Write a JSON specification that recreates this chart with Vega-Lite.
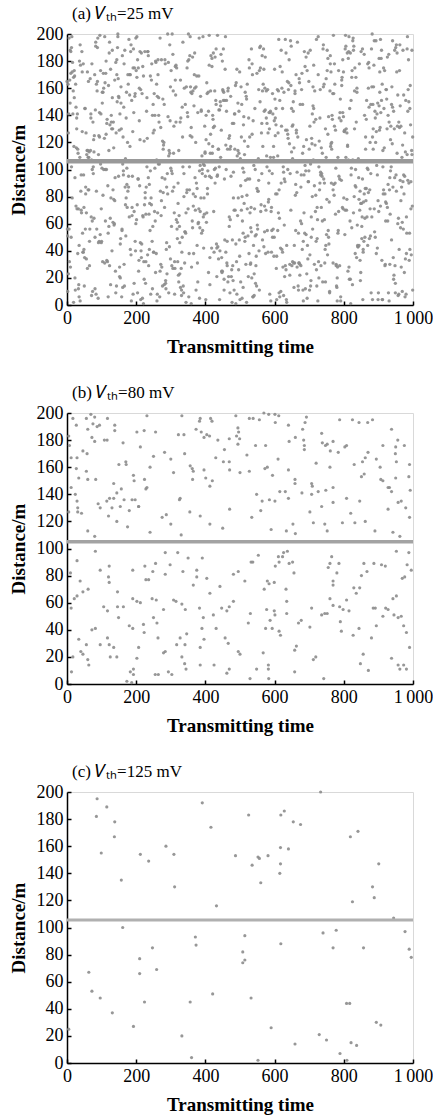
{
"$schema": "https://vega.github.io/schema/vega-lite/v6.json",
"padding": {"left": 8, "top": 4, "right": 0, "bottom": 2},
"spacing": 26,
"config": {
  "view": {"stroke": "#d9d9d9", "strokeWidth": 1},
  "axis": {"grid": false, "domainColor": "#000", "domainWidth": 1.5, "tickColor": "#000", "tickWidth": 1.5, "tickSize": -4, "labelFont": "Liberation Serif", "labelFontSize": 18, "labelColor": "#000", "titleFont": "Liberation Serif", "titleFontSize": 19, "titleFontWeight": "bold", "titleColor": "#000", "labelFlush": false, "labelOverlap": false, "labelSeparation": -100, "labelPadding": 8},
  "axisX": {"titlePadding": 10},
  "axisY": {"titlePadding": 8},
  "title": {"font": "Liberation Serif", "fontSize": 17, "fontWeight": "normal", "anchor": "start", "frame": "group", "color": "#000", "offset": 2}
},
"datasets": {
"la": [{"y": 106}], "lb": [{"y": 105}], "lc": [{"y": 105.5}],
"c": [{"x":87,"y":195},{"x":115,"y":189},{"x":85,"y":182},{"x":138,"y":178},{"x":137,"y":167},{"x":99,"y":155},{"x":157,"y":135},{"x":212,"y":154},{"x":236,"y":149},{"x":286,"y":160},{"x":309,"y":154},{"x":311,"y":130},{"x":391,"y":192},{"x":416,"y":174},{"x":487,"y":153},{"x":525,"y":183},{"x":535,"y":146},{"x":552,"y":152},{"x":556,"y":151},{"x":581,"y":153},{"x":560,"y":133},{"x":618,"y":183},{"x":628,"y":186},{"x":654,"y":178},{"x":675,"y":176},{"x":617,"y":159},{"x":640,"y":158},{"x":617,"y":147},{"x":615,"y":140},{"x":733,"y":200},{"x":819,"y":167},{"x":841,"y":171},{"x":901,"y":147},{"x":883,"y":130},{"x":5,"y":25},{"x":63,"y":67},{"x":72,"y":53},{"x":96,"y":48},{"x":131,"y":37},{"x":161,"y":100},{"x":192,"y":27},{"x":210,"y":66},{"x":210,"y":77},{"x":224,"y":45},{"x":247,"y":85},{"x":259,"y":69},{"x":332,"y":20},{"x":356,"y":45},{"x":360,"y":4},{"x":371,"y":93},{"x":373,"y":87},{"x":421,"y":51},{"x":432,"y":116},{"x":508,"y":82},{"x":508,"y":74},{"x":514,"y":76},{"x":514,"y":94},{"x":532,"y":48},{"x":552,"y":2},{"x":590,"y":26},{"x":618,"y":88},{"x":659,"y":14},{"x":729,"y":21},{"x":750,"y":17},{"x":740,"y":96},{"x":778,"y":98},{"x":769,"y":85},{"x":825,"y":119},{"x":857,"y":85},{"x":888,"y":122},{"x":894,"y":30},{"x":907,"y":28},{"x":944,"y":107},{"x":977,"y":97},{"x":989,"y":84},{"x":995,"y":78},{"x":789,"y":7},{"x":809,"y":2},{"x":821,"y":15},{"x":837,"y":13},{"x":808,"y":44},{"x":817,"y":44}],
"b": [{"x":17,"y":196},{"x":27,"y":191},{"x":56,"y":196},{"x":69,"y":199},{"x":80,"y":197},{"x":75,"y":192},{"x":87,"y":190},{"x":94,"y":191},{"x":117,"y":196},{"x":231,"y":198},{"x":332,"y":198},{"x":383,"y":194},{"x":385,"y":196},{"x":415,"y":196},{"x":419,"y":194},{"x":488,"y":198},{"x":527,"y":196},{"x":538,"y":196},{"x":556,"y":195},{"x":569,"y":200},{"x":583,"y":199},{"x":601,"y":199},{"x":612,"y":198},{"x":602,"y":193},{"x":640,"y":191},{"x":692,"y":197},{"x":688,"y":193},{"x":681,"y":188},{"x":788,"y":195},{"x":825,"y":195},{"x":844,"y":193},{"x":869,"y":193},{"x":883,"y":195},{"x":938,"y":188},{"x":60,"y":188},{"x":72,"y":182},{"x":80,"y":179},{"x":108,"y":180},{"x":116,"y":180},{"x":138,"y":191},{"x":138,"y":187},{"x":202,"y":186},{"x":223,"y":187},{"x":256,"y":186},{"x":322,"y":184},{"x":338,"y":184},{"x":373,"y":188},{"x":388,"y":186},{"x":396,"y":182},{"x":404,"y":184},{"x":412,"y":183},{"x":436,"y":180},{"x":469,"y":181},{"x":494,"y":189},{"x":496,"y":186},{"x":490,"y":183},{"x":499,"y":181},{"x":494,"y":177},{"x":574,"y":176},{"x":642,"y":179},{"x":660,"y":182},{"x":684,"y":180},{"x":686,"y":176},{"x":686,"y":173},{"x":736,"y":185},{"x":738,"y":178},{"x":747,"y":176},{"x":752,"y":177},{"x":769,"y":179},{"x":761,"y":172},{"x":784,"y":171},{"x":808,"y":176},{"x":803,"y":175},{"x":913,"y":176},{"x":956,"y":180},{"x":975,"y":176},{"x":950,"y":175},{"x":949,"y":170},{"x":5,"y":183},{"x":7,"y":176},{"x":12,"y":167},{"x":29,"y":167},{"x":46,"y":172},{"x":58,"y":170},{"x":162,"y":178},
{"x":27,"y":159},{"x":34,"y":152},{"x":56,"y":157},{"x":60,"y":151},{"x":83,"y":151},{"x":24,"y":140},{"x":29,"y":135},{"x":12,"y":145},{"x":31,"y":130},{"x":90,"y":133},{"x":96,"y":130},{"x":115,"y":135},{"x":123,"y":137},{"x":135,"y":137},{"x":130,"y":130},{"x":154,"y":131},{"x":165,"y":136},{"x":188,"y":136},{"x":197,"y":136},{"x":207,"y":131},{"x":135,"y":148},{"x":144,"y":141},{"x":157,"y":144},{"x":150,"y":162},{"x":170,"y":164},{"x":171,"y":162},{"x":192,"y":154},{"x":194,"y":150},{"x":224,"y":151},{"x":228,"y":144},{"x":231,"y":145},{"x":308,"y":156},{"x":327,"y":137},{"x":325,"y":136},{"x":356,"y":161},{"x":362,"y":159},{"x":365,"y":157},{"x":363,"y":151},{"x":401,"y":152},{"x":420,"y":150},{"x":413,"y":146},{"x":396,"y":158},{"x":452,"y":164},{"x":469,"y":164},{"x":500,"y":156},{"x":527,"y":157},{"x":548,"y":140},{"x":564,"y":135},{"x":572,"y":159},{"x":579,"y":160},{"x":594,"y":154},{"x":585,"y":136},{"x":615,"y":142},{"x":631,"y":142},{"x":640,"y":137},{"x":601,"y":135},{"x":659,"y":151},{"x":659,"y":148},{"x":679,"y":141},{"x":707,"y":148},{"x":709,"y":146},{"x":707,"y":140},{"x":726,"y":142},{"x":748,"y":143},{"x":769,"y":134},{"x":769,"y":145},{"x":808,"y":137},{"x":846,"y":135},{"x":854,"y":164},{"x":862,"y":167},{"x":851,"y":153},{"x":859,"y":155},{"x":894,"y":166},{"x":907,"y":151},{"x":913,"y":150},{"x":932,"y":145},{"x":928,"y":145},{"x":938,"y":142},{"x":950,"y":152},{"x":952,"y":164},{"x":988,"y":153},{"x":992,"y":143},{"x":957,"y":134},{"x":966,"y":135},{"x":979,"y":130},{"x":250,"y":168},{"x":282,"y":171},{"x":300,"y":166},{"x":340,"y":170},{"x":430,"y":167},{"x":520,"y":169},{"x":610,"y":166},{"x":720,"y":163},{"x":830,"y":162},{"x":870,"y":171},{"x":990,"y":162},{"x":240,"y":160},{"x":470,"y":158},{"x":640,"y":158},{"x":760,"y":160},{"x":905,"y":160},{"x":212,"y":175},{"x":455,"y":173},{"x":545,"y":176},
{"x":5,"y":127},{"x":31,"y":127},{"x":42,"y":126},{"x":120,"y":124},{"x":144,"y":120},{"x":207,"y":131},{"x":275,"y":123},{"x":287,"y":125},{"x":300,"y":118},{"x":385,"y":124},{"x":413,"y":118},{"x":534,"y":123},{"x":653,"y":118},{"x":660,"y":111},{"x":634,"y":113},{"x":702,"y":127},{"x":712,"y":119},{"x":736,"y":131},{"x":745,"y":118},{"x":752,"y":113},{"x":796,"y":119},{"x":832,"y":119},{"x":862,"y":120},{"x":928,"y":129},{"x":942,"y":112},{"x":962,"y":109},{"x":990,"y":123},{"x":80,"y":109},{"x":60,"y":113},{"x":175,"y":116},{"x":240,"y":112},{"x":330,"y":110},{"x":450,"y":115},{"x":560,"y":128},{"x":590,"y":114},{"x":890,"y":113},{"x":820,"y":126},{"x":470,"y":129},{"x":355,"y":127},{"x":180,"y":128},
{"x":29,"y":91},{"x":10,"y":82},{"x":82,"y":98},{"x":96,"y":84},{"x":122,"y":87},{"x":38,"y":76},{"x":46,"y":68},{"x":61,"y":70},{"x":29,"y":65},{"x":21,"y":63},{"x":12,"y":56},{"x":120,"y":79},{"x":122,"y":75},{"x":106,"y":57},{"x":117,"y":54},{"x":72,"y":40},{"x":82,"y":41},{"x":56,"y":29},{"x":96,"y":29},{"x":117,"y":34},{"x":122,"y":29},{"x":135,"y":27},{"x":144,"y":20},{"x":125,"y":20},{"x":34,"y":33},{"x":17,"y":20},{"x":40,"y":24},{"x":46,"y":22},{"x":60,"y":18},{"x":63,"y":14},{"x":13,"y":9},{"x":146,"y":68},{"x":146,"y":57},{"x":149,"y":49},{"x":163,"y":57},{"x":180,"y":43},{"x":190,"y":41},{"x":190,"y":63},{"x":202,"y":61},{"x":212,"y":60},{"x":190,"y":84},{"x":228,"y":77},{"x":236,"y":77},{"x":248,"y":83},{"x":256,"y":89},{"x":225,"y":87},{"x":246,"y":63},{"x":258,"y":62},{"x":250,"y":49},{"x":260,"y":45},{"x":263,"y":34},{"x":221,"y":44},{"x":223,"y":38},{"x":207,"y":27},{"x":202,"y":19},{"x":192,"y":11},{"x":183,"y":9},{"x":192,"y":7},{"x":173,"y":2},{"x":187,"y":1},{"x":284,"y":97},{"x":284,"y":81},{"x":298,"y":88},{"x":320,"y":97},{"x":335,"y":83},{"x":350,"y":93},{"x":279,"y":55},{"x":308,"y":62},{"x":315,"y":61},{"x":332,"y":59},{"x":342,"y":55},{"x":346,"y":37},{"x":327,"y":34},{"x":341,"y":29},{"x":317,"y":29},{"x":332,"y":20},{"x":340,"y":15},{"x":344,"y":11},{"x":284,"y":24},{"x":279,"y":23},{"x":303,"y":7},{"x":255,"y":7},{"x":264,"y":7},{"x":293,"y":9},{"x":375,"y":84},{"x":375,"y":79},{"x":391,"y":93},{"x":404,"y":78},{"x":365,"y":73},{"x":383,"y":56},{"x":394,"y":49},{"x":390,"y":41},{"x":396,"y":33},{"x":385,"y":27},{"x":385,"y":14},{"x":413,"y":67},{"x":423,"y":51},{"x":431,"y":41},{"x":425,"y":14},{"x":442,"y":72},{"x":447,"y":56},{"x":462,"y":54},{"x":469,"y":57},{"x":481,"y":61},{"x":457,"y":34},{"x":466,"y":30},{"x":462,"y":8},{"x":469,"y":11},{"x":481,"y":81},{"x":495,"y":83},{"x":514,"y":76},{"x":532,"y":90},{"x":537,"y":90},{"x":553,"y":95},{"x":495,"y":24},{"x":500,"y":22},{"x":524,"y":45},{"x":530,"y":52},{"x":529,"y":4},{"x":548,"y":11},{"x":567,"y":23},{"x":570,"y":70},{"x":577,"y":55},{"x":587,"y":47},{"x":593,"y":41},{"x":574,"y":41},{"x":579,"y":76},{"x":584,"y":74},{"x":599,"y":75},{"x":602,"y":87},{"x":611,"y":94},{"x":613,"y":90},{"x":582,"y":14},{"x":582,"y":11},{"x":583,"y":4},{"x":613,"y":39},{"x":617,"y":36},{"x":599,"y":54},{"x":601,"y":51},{"x":623,"y":94},{"x":626,"y":97},{"x":637,"y":98},{"x":642,"y":89},{"x":652,"y":90},{"x":656,"y":82},{"x":633,"y":70},{"x":635,"y":61},{"x":635,"y":52},{"x":658,"y":25},{"x":663,"y":28},{"x":658,"y":9},{"x":669,"y":45},{"x":677,"y":47},{"x":707,"y":56},{"x":702,"y":42},{"x":712,"y":18},{"x":719,"y":20},{"x":736,"y":51},{"x":745,"y":52},{"x":752,"y":52},{"x":742,"y":4},{"x":755,"y":86},{"x":760,"y":89},{"x":765,"y":94},{"x":769,"y":76},{"x":769,"y":73},{"x":780,"y":82},{"x":786,"y":89},{"x":760,"y":63},{"x":769,"y":58},{"x":788,"y":57},{"x":798,"y":55},{"x":808,"y":62},{"x":815,"y":54},{"x":790,"y":46},{"x":793,"y":39},{"x":827,"y":36},{"x":844,"y":41},{"x":829,"y":71},{"x":846,"y":71},{"x":836,"y":67},{"x":851,"y":80},{"x":858,"y":89},{"x":867,"y":83},{"x":887,"y":89},{"x":856,"y":22},{"x":848,"y":15},{"x":885,"y":56},{"x":891,"y":56},{"x":894,"y":43},{"x":880,"y":34},{"x":871,"y":10},{"x":909,"y":88},{"x":920,"y":87},{"x":921,"y":56},{"x":928,"y":55},{"x":913,"y":50},{"x":942,"y":63},{"x":952,"y":65},{"x":945,"y":51},{"x":957,"y":49},{"x":966,"y":50},{"x":973,"y":43},{"x":981,"y":38},{"x":990,"y":27},{"x":938,"y":19},{"x":957,"y":14},{"x":962,"y":11},{"x":973,"y":14},{"x":981,"y":11},{"x":976,"y":79},{"x":983,"y":88},{"x":995,"y":84},{"x":969,"y":78},{"x":952,"y":98},{"x":988,"y":97}],
"a": [
{"x":717,"y":118},{"x":753,"y":37},{"x":641,"y":164},{"x":278,"y":83},{"x":759,"y":9},{"x":485,"y":141},{"x":972,"y":56},{"x":646,"y":195},{"x":913,"y":102},{"x":330,"y":27},{"x":301,"y":173},{"x":188,"y":66},{"x":925,"y":130},{"x":606,"y":4},{"x":994,"y":91},{"x":519,"y":152},{"x":432,"y":45},{"x":211,"y":187},{"x":998,"y":73},{"x":577,"y":110},{"x":454,"y":19},{"x":986,"y":159},{"x":665,"y":98},{"x":792,"y":136},{"x":523,"y":51},{"x":908,"y":182},{"x":33,"y":12},{"x":899,"y":77},{"x":470,"y":125},{"x":202,"y":168},{"x":989,"y":33},{"x":164,"y":146},{"x":379,"y":60},{"x":95,"y":199},{"x":210,"y":88},{"x":326,"y":23},{"x":437,"y":115},{"x":105,"y":171},{"x":418,"y":42},{"x":993,"y":133},{"x":331,"y":7},{"x":412,"y":95},{"x":197,"y":156},{"x":424,"y":69},{"x":257,"y":179},{"x":734,"y":29},{"x":71,"y":107},{"x":890,"y":143},{"x":316,"y":63},{"x":950,"y":190},{"x":126,"y":15},{"x":709,"y":80},{"x":44,"y":128},{"x":313,"y":176},{"x":581,"y":39},{"x":638,"y":100},{"x":102,"y":149},{"x":519,"y":2},{"x":347,"y":85},{"x":373,"y":161},{"x":456,"y":48},{"x":935,"y":122},{"x":215,"y":186},{"x":41,"y":70},{"x":778,"y":30},{"x":511,"y":139},{"x":933,"y":94},{"x":104,"y":157},{"x":571,"y":54},{"x":649,"y":113},
{"x":767,"y":137},{"x":803,"y":52},{"x":691,"y":183},{"x":328,"y":13},{"x":809,"y":78},{"x":535,"y":126},{"x":22,"y":169},{"x":696,"y":34},{"x":963,"y":147},{"x":380,"y":61},{"x":351,"y":200},{"x":238,"y":89},{"x":975,"y":24},{"x":656,"y":116},{"x":44,"y":172},{"x":569,"y":43},{"x":482,"y":134},{"x":261,"y":8},{"x":48,"y":96},{"x":627,"y":157},{"x":504,"y":70},{"x":36,"y":180},{"x":715,"y":30},{"x":842,"y":108},{"x":573,"y":144},{"x":958,"y":64},{"x":83,"y":191},{"x":949,"y":16},{"x":520,"y":81},{"x":252,"y":129},{"x":39,"y":177},{"x":214,"y":40},{"x":429,"y":101},{"x":145,"y":150},{"x":260,"y":3},{"x":376,"y":86},{"x":487,"y":162},{"x":155,"y":49},{"x":468,"y":123},{"x":43,"y":187},{"x":381,"y":71},{"x":462,"y":31},{"x":247,"y":140},{"x":474,"y":95},{"x":307,"y":158},{"x":784,"y":55},{"x":121,"y":114},{"x":940,"y":119},{"x":366,"y":38},{"x":0,"y":165},{"x":176,"y":84},{"x":759,"y":10},{"x":94,"y":142},{"x":363,"y":57},{"x":631,"y":196},{"x":688,"y":103},{"x":152,"y":28},{"x":569,"y":174},{"x":397,"y":67},{"x":423,"y":131},{"x":506,"y":5},{"x":985,"y":92},{"x":265,"y":153},{"x":91,"y":46},{"x":828,"y":188},{"x":561,"y":74},{"x":983,"y":111},{"x":154,"y":20},{"x":621,"y":160},{"x":699,"y":99},
{"x":817,"y":145},{"x":853,"y":65},{"x":741,"y":192},{"x":378,"y":17},{"x":859,"y":82},{"x":585,"y":130},{"x":72,"y":178},{"x":746,"y":41},{"x":13,"y":102},{"x":430,"y":151},{"x":401,"y":4},{"x":288,"y":87},{"x":25,"y":163},{"x":706,"y":50},{"x":94,"y":124},{"x":619,"y":188},{"x":532,"y":72},{"x":311,"y":32},{"x":98,"y":141},{"x":677,"y":96},{"x":554,"y":159},{"x":86,"y":56},{"x":765,"y":115},{"x":892,"y":120},{"x":623,"y":39},{"x":8,"y":166},{"x":133,"y":85},{"x":999,"y":11},{"x":570,"y":143},{"x":302,"y":58},{"x":89,"y":197},{"x":264,"y":104},{"x":479,"y":29},{"x":195,"y":175},{"x":310,"y":68},{"x":426,"y":132},{"x":537,"y":6},{"x":205,"y":93},{"x":518,"y":154},{"x":93,"y":47},{"x":431,"y":189},{"x":512,"y":75},{"x":297,"y":112},{"x":524,"y":21},{"x":357,"y":161},{"x":834,"y":100},{"x":171,"y":138},{"x":990,"y":53},{"x":416,"y":184},{"x":50,"y":14},{"x":226,"y":79},{"x":809,"y":127},{"x":144,"y":170},{"x":413,"y":35},{"x":681,"y":148},{"x":738,"y":62},{"x":202,"y":198},{"x":619,"y":90},{"x":447,"y":25},{"x":473,"y":117},{"x":556,"y":173},{"x":35,"y":44},{"x":315,"y":135},{"x":141,"y":9},{"x":878,"y":97},{"x":611,"y":158},{"x":33,"y":71},{"x":204,"y":181},{"x":671,"y":31},{"x":749,"y":109},
{"x":867,"y":65},{"x":903,"y":129},{"x":791,"y":3},{"x":428,"y":90},{"x":909,"y":151},{"x":635,"y":44},{"x":122,"y":186},{"x":796,"y":72},{"x":63,"y":109},{"x":480,"y":18},{"x":451,"y":158},{"x":338,"y":97},{"x":75,"y":135},{"x":756,"y":50},{"x":144,"y":181},{"x":669,"y":11},{"x":582,"y":76},{"x":361,"y":124},{"x":148,"y":167},{"x":727,"y":32},{"x":604,"y":145},{"x":136,"y":59},{"x":815,"y":198},{"x":942,"y":87},{"x":673,"y":22},{"x":58,"y":114},{"x":183,"y":170},{"x":49,"y":41},{"x":620,"y":132},{"x":352,"y":6},{"x":139,"y":94},{"x":314,"y":155},{"x":529,"y":68},{"x":245,"y":178},{"x":360,"y":28},{"x":476,"y":106},{"x":587,"y":142},{"x":255,"y":62},{"x":568,"y":189},{"x":143,"y":14},{"x":481,"y":79},{"x":562,"y":127},{"x":347,"y":175},{"x":574,"y":38},{"x":407,"y":99},{"x":884,"y":148},{"x":221,"y":1},{"x":40,"y":84},{"x":466,"y":160},{"x":100,"y":47},{"x":276,"y":121},{"x":859,"y":185},{"x":194,"y":69},{"x":463,"y":29},{"x":731,"y":138},{"x":788,"y":93},{"x":252,"y":156},{"x":669,"y":53},{"x":497,"y":112},{"x":523,"y":117},{"x":606,"y":36},{"x":85,"y":163},{"x":365,"y":82},{"x":191,"y":8},{"x":928,"y":140},{"x":661,"y":55},{"x":83,"y":194},{"x":254,"y":101},{"x":721,"y":26},{"x":799,"y":172},
{"x":917,"y":116},{"x":953,"y":172},{"x":841,"y":43},{"x":478,"y":134},{"x":959,"y":8},{"x":685,"y":96},{"x":172,"y":157},{"x":846,"y":70},{"x":113,"y":180},{"x":530,"y":30},{"x":501,"y":108},{"x":388,"y":144},{"x":125,"y":64},{"x":806,"y":191},{"x":194,"y":16},{"x":719,"y":81},{"x":632,"y":129},{"x":411,"y":177},{"x":198,"y":40},{"x":777,"y":101},{"x":654,"y":150},{"x":186,"y":3},{"x":865,"y":86},{"x":992,"y":162},{"x":723,"y":49},{"x":108,"y":123},{"x":233,"y":187},{"x":99,"y":71},{"x":670,"y":31},{"x":402,"y":140},{"x":189,"y":95},{"x":364,"y":158},{"x":579,"y":55},{"x":295,"y":114},{"x":410,"y":119},{"x":526,"y":38},{"x":637,"y":165},{"x":305,"y":84},{"x":618,"y":10},{"x":193,"y":142},{"x":531,"y":57},{"x":612,"y":196},{"x":397,"y":103},{"x":624,"y":28},{"x":457,"y":174},{"x":934,"y":67},{"x":271,"y":131},{"x":90,"y":5},{"x":516,"y":92},{"x":150,"y":153},{"x":326,"y":46},{"x":909,"y":188},{"x":244,"y":74},{"x":513,"y":111},{"x":781,"y":20},{"x":838,"y":160},{"x":302,"y":99},{"x":719,"y":137},{"x":547,"y":52},{"x":573,"y":183},{"x":656,"y":13},{"x":135,"y":78},{"x":415,"y":126},{"x":241,"y":169},{"x":978,"y":34},{"x":711,"y":147},{"x":133,"y":61},{"x":304,"y":200},{"x":771,"y":89},{"x":849,"y":24},
{"x":967,"y":87},{"x":3,"y":163},{"x":891,"y":50},{"x":528,"y":124},{"x":9,"y":188},{"x":735,"y":72},{"x":222,"y":32},{"x":896,"y":141},{"x":163,"y":96},{"x":580,"y":159},{"x":551,"y":56},{"x":438,"y":115},{"x":175,"y":120},{"x":856,"y":39},{"x":244,"y":166},{"x":769,"y":85},{"x":682,"y":11},{"x":461,"y":143},{"x":248,"y":58},{"x":827,"y":197},{"x":704,"y":104},{"x":236,"y":29},{"x":915,"y":175},{"x":42,"y":68},{"x":773,"y":132},{"x":158,"y":6},{"x":283,"y":93},{"x":149,"y":154},{"x":720,"y":47},{"x":452,"y":189},{"x":239,"y":75},{"x":414,"y":112},{"x":629,"y":21},{"x":345,"y":161},{"x":460,"y":100},{"x":576,"y":138},{"x":687,"y":53},{"x":355,"y":184},{"x":668,"y":14},{"x":243,"y":79},{"x":581,"y":127},{"x":662,"y":170},{"x":447,"y":35},{"x":674,"y":148},{"x":507,"y":62},{"x":984,"y":198},{"x":321,"y":90},{"x":140,"y":25},{"x":566,"y":117},{"x":200,"y":173},{"x":376,"y":44},{"x":959,"y":135},{"x":294,"y":9},{"x":563,"y":97},{"x":831,"y":158},{"x":888,"y":71},{"x":352,"y":181},{"x":769,"y":31},{"x":597,"y":109},{"x":623,"y":145},{"x":706,"y":65},{"x":185,"y":192},{"x":465,"y":17},{"x":291,"y":82},{"x":28,"y":130},{"x":761,"y":178},{"x":183,"y":41},{"x":354,"y":102},{"x":821,"y":151},{"x":899,"y":4},
{"x":17,"y":141},{"x":53,"y":56},{"x":941,"y":195},{"x":578,"y":102},{"x":59,"y":27},{"x":785,"y":173},{"x":272,"y":66},{"x":946,"y":130},{"x":213,"y":4},{"x":630,"y":91},{"x":601,"y":152},{"x":488,"y":45},{"x":225,"y":187},{"x":906,"y":73},{"x":294,"y":110},{"x":819,"y":19},{"x":732,"y":159},{"x":511,"y":98},{"x":298,"y":136},{"x":877,"y":51},{"x":754,"y":182},{"x":286,"y":12},{"x":965,"y":77},{"x":92,"y":125},{"x":823,"y":168},{"x":208,"y":33},{"x":333,"y":146},{"x":199,"y":60},{"x":770,"y":199},{"x":502,"y":88},{"x":289,"y":23},{"x":464,"y":115},{"x":679,"y":171},{"x":395,"y":42},{"x":510,"y":133},{"x":626,"y":7},{"x":737,"y":95},{"x":405,"y":156},{"x":718,"y":69},{"x":293,"y":179},{"x":631,"y":29},{"x":712,"y":107},{"x":497,"y":143},{"x":724,"y":63},{"x":557,"y":190},{"x":34,"y":15},{"x":371,"y":80},{"x":190,"y":128},{"x":616,"y":176},{"x":250,"y":39},{"x":426,"y":100},{"x":9,"y":149},{"x":344,"y":2},{"x":613,"y":85},{"x":881,"y":161},{"x":938,"y":48},{"x":402,"y":122},{"x":819,"y":186},{"x":647,"y":70},{"x":673,"y":30},{"x":756,"y":139},{"x":235,"y":94},{"x":515,"y":157},{"x":341,"y":54},{"x":78,"y":113},{"x":811,"y":118},{"x":233,"y":37},{"x":404,"y":164},{"x":871,"y":83},{"x":949,"y":9},
{"x":67,"y":167},{"x":103,"y":32},{"x":991,"y":145},{"x":628,"y":59},{"x":109,"y":198},{"x":835,"y":87},{"x":322,"y":22},{"x":996,"y":114},{"x":263,"y":170},{"x":680,"y":41},{"x":651,"y":132},{"x":538,"y":6},{"x":275,"y":94},{"x":956,"y":155},{"x":344,"y":68},{"x":869,"y":178},{"x":782,"y":28},{"x":561,"y":106},{"x":348,"y":142},{"x":927,"y":62},{"x":804,"y":189},{"x":336,"y":14},{"x":15,"y":79},{"x":142,"y":127},{"x":873,"y":175},{"x":258,"y":38},{"x":383,"y":99},{"x":249,"y":148},{"x":820,"y":1},{"x":552,"y":84},{"x":339,"y":160},{"x":514,"y":47},{"x":729,"y":121},{"x":445,"y":185},{"x":560,"y":69},{"x":676,"y":29},{"x":787,"y":138},{"x":455,"y":93},{"x":768,"y":156},{"x":343,"y":53},{"x":681,"y":112},{"x":762,"y":117},{"x":547,"y":36},{"x":774,"y":163},{"x":607,"y":82},{"x":84,"y":8},{"x":421,"y":140},{"x":240,"y":55},{"x":666,"y":194},{"x":300,"y":101},{"x":476,"y":26},{"x":59,"y":172},{"x":394,"y":65},{"x":663,"y":129},{"x":931,"y":3},{"x":988,"y":90},{"x":452,"y":151},{"x":869,"y":44},{"x":697,"y":186},{"x":723,"y":72},{"x":806,"y":109},{"x":285,"y":18},{"x":565,"y":158},{"x":391,"y":97},{"x":128,"y":135},{"x":861,"y":50},{"x":283,"y":181},{"x":454,"y":11},{"x":921,"y":76},{"x":999,"y":124},
{"x":117,"y":32},{"x":153,"y":141},{"x":41,"y":96},{"x":678,"y":159},{"x":159,"y":56},{"x":885,"y":115},{"x":372,"y":120},{"x":46,"y":39},{"x":313,"y":166},{"x":730,"y":85},{"x":701,"y":11},{"x":588,"y":143},{"x":325,"y":58},{"x":6,"y":197},{"x":394,"y":104},{"x":919,"y":29},{"x":832,"y":175},{"x":611,"y":68},{"x":398,"y":132},{"x":977,"y":6},{"x":854,"y":93},{"x":386,"y":154},{"x":65,"y":47},{"x":192,"y":189},{"x":923,"y":75},{"x":308,"y":112},{"x":433,"y":21},{"x":299,"y":161},{"x":870,"y":100},{"x":602,"y":138},{"x":389,"y":53},{"x":564,"y":184},{"x":779,"y":14},{"x":495,"y":79},{"x":610,"y":127},{"x":726,"y":170},{"x":837,"y":35},{"x":505,"y":148},{"x":818,"y":62},{"x":393,"y":198},{"x":731,"y":90},{"x":812,"y":25},{"x":597,"y":117},{"x":824,"y":173},{"x":657,"y":44},{"x":134,"y":135},{"x":471,"y":9},{"x":290,"y":97},{"x":716,"y":158},{"x":350,"y":71},{"x":526,"y":181},{"x":109,"y":31},{"x":444,"y":109},{"x":713,"y":145},{"x":981,"y":65},{"x":38,"y":192},{"x":502,"y":17},{"x":919,"y":82},{"x":747,"y":130},{"x":773,"y":178},{"x":856,"y":41},{"x":335,"y":102},{"x":615,"y":151},{"x":441,"y":4},{"x":178,"y":87},{"x":911,"y":163},{"x":333,"y":50},{"x":504,"y":124},{"x":971,"y":188},{"x":49,"y":72},
{"x":167,"y":188},{"x":203,"y":74},{"x":91,"y":111},{"x":728,"y":20},{"x":209,"y":160},{"x":935,"y":99},{"x":422,"y":137},{"x":96,"y":52},{"x":363,"y":183},{"x":780,"y":13},{"x":751,"y":78},{"x":638,"y":126},{"x":375,"y":169},{"x":56,"y":34},{"x":444,"y":147},{"x":969,"y":61},{"x":882,"y":200},{"x":661,"y":89},{"x":448,"y":24},{"x":27,"y":116},{"x":904,"y":172},{"x":436,"y":43},{"x":115,"y":134},{"x":242,"y":8},{"x":973,"y":96},{"x":358,"y":157},{"x":483,"y":70},{"x":349,"y":180},{"x":920,"y":30},{"x":652,"y":108},{"x":439,"y":144},{"x":614,"y":64},{"x":829,"y":191},{"x":545,"y":16},{"x":660,"y":81},{"x":776,"y":129},{"x":887,"y":177},{"x":555,"y":40},{"x":868,"y":101},{"x":443,"y":150},{"x":781,"y":3},{"x":862,"y":86},{"x":647,"y":162},{"x":874,"y":49},{"x":707,"y":123},{"x":184,"y":187},{"x":521,"y":71},{"x":340,"y":31},{"x":766,"y":140},{"x":400,"y":95},{"x":576,"y":158},{"x":159,"y":55},{"x":494,"y":114},{"x":763,"y":119},{"x":31,"y":38},{"x":88,"y":165},{"x":552,"y":84},{"x":969,"y":10},{"x":797,"y":142},{"x":823,"y":57},{"x":906,"y":196},{"x":385,"y":103},{"x":665,"y":28},{"x":491,"y":174},{"x":228,"y":67},{"x":961,"y":131},{"x":383,"y":5},{"x":554,"y":92},{"x":21,"y":153},{"x":99,"y":46},
{"x":217,"y":156},{"x":253,"y":69},{"x":141,"y":179},{"x":778,"y":29},{"x":259,"y":107},{"x":985,"y":143},{"x":472,"y":63},{"x":146,"y":190},{"x":413,"y":15},{"x":830,"y":80},{"x":801,"y":128},{"x":688,"y":176},{"x":425,"y":39},{"x":106,"y":100},{"x":494,"y":149},{"x":19,"y":2},{"x":932,"y":85},{"x":711,"y":161},{"x":498,"y":48},{"x":77,"y":122},{"x":954,"y":186},{"x":486,"y":70},{"x":165,"y":30},{"x":292,"y":139},{"x":23,"y":94},{"x":408,"y":157},{"x":533,"y":54},{"x":399,"y":113},{"x":970,"y":118},{"x":702,"y":37},{"x":489,"y":164},{"x":664,"y":83},{"x":879,"y":9},{"x":595,"y":141},{"x":710,"y":56},{"x":826,"y":195},{"x":937,"y":102},{"x":605,"y":27},{"x":918,"y":173},{"x":493,"y":66},{"x":831,"y":130},{"x":912,"y":4},{"x":697,"y":91},{"x":924,"y":152},{"x":757,"y":45},{"x":234,"y":187},{"x":571,"y":73},{"x":390,"y":110},{"x":816,"y":19},{"x":450,"y":159},{"x":626,"y":98},{"x":209,"y":136},{"x":544,"y":51},{"x":813,"y":182},{"x":81,"y":12},{"x":138,"y":77},{"x":602,"y":125},{"x":19,"y":168},{"x":847,"y":33},{"x":873,"y":146},{"x":956,"y":60},{"x":435,"y":199},{"x":715,"y":88},{"x":541,"y":23},{"x":278,"y":115},{"x":11,"y":171},{"x":433,"y":42},{"x":604,"y":133},{"x":71,"y":7},{"x":149,"y":95},
{"x":267,"y":104},{"x":303,"y":29},{"x":191,"y":175},{"x":828,"y":68},{"x":309,"y":132},{"x":35,"y":6},{"x":522,"y":93},{"x":196,"y":154},{"x":463,"y":47},{"x":880,"y":189},{"x":851,"y":75},{"x":738,"y":112},{"x":475,"y":21},{"x":156,"y":161},{"x":544,"y":100},{"x":69,"y":138},{"x":982,"y":53},{"x":761,"y":184},{"x":548,"y":14},{"x":127,"y":79},{"x":4,"y":127},{"x":536,"y":170},{"x":215,"y":35},{"x":342,"y":148},{"x":73,"y":62},{"x":458,"y":198},{"x":583,"y":90},{"x":449,"y":25},{"x":20,"y":117},{"x":752,"y":173},{"x":539,"y":44},{"x":714,"y":135},{"x":929,"y":9},{"x":645,"y":97},{"x":760,"y":158},{"x":876,"y":71},{"x":987,"y":181},{"x":655,"y":31},{"x":968,"y":109},{"x":543,"y":145},{"x":881,"y":65},{"x":962,"y":192},{"x":747,"y":17},{"x":974,"y":82},{"x":807,"y":130},{"x":284,"y":178},{"x":621,"y":41},{"x":440,"y":102},{"x":866,"y":151},{"x":500,"y":4},{"x":676,"y":87},{"x":259,"y":163},{"x":594,"y":50},{"x":863,"y":124},{"x":131,"y":188},{"x":188,"y":72},{"x":652,"y":32},{"x":69,"y":141},{"x":897,"y":96},{"x":923,"y":159},{"x":6,"y":56},{"x":485,"y":115},{"x":765,"y":120},{"x":591,"y":39},{"x":328,"y":166},{"x":61,"y":85},{"x":483,"y":11},{"x":654,"y":143},{"x":121,"y":58},{"x":199,"y":197},
{"x":317,"y":175},{"x":353,"y":38},{"x":241,"y":99},{"x":878,"y":148},{"x":359,"y":1},{"x":85,"y":84},{"x":572,"y":160},{"x":246,"y":47},{"x":513,"y":121},{"x":930,"y":185},{"x":901,"y":69},{"x":788,"y":29},{"x":525,"y":138},{"x":206,"y":93},{"x":594,"y":156},{"x":119,"y":53},{"x":32,"y":112},{"x":811,"y":117},{"x":598,"y":36},{"x":177,"y":163},{"x":54,"y":82},{"x":586,"y":8},{"x":265,"y":140},{"x":392,"y":55},{"x":123,"y":194},{"x":508,"y":101},{"x":633,"y":26},{"x":499,"y":172},{"x":70,"y":65},{"x":802,"y":129},{"x":589,"y":3},{"x":764,"y":90},{"x":979,"y":151},{"x":695,"y":44},{"x":810,"y":186},{"x":926,"y":72},{"x":37,"y":109},{"x":705,"y":18},{"x":18,"y":158},{"x":593,"y":97},{"x":931,"y":135},{"x":12,"y":50},{"x":797,"y":181},{"x":24,"y":11},{"x":857,"y":76},{"x":334,"y":124},{"x":671,"y":167},{"x":490,"y":32},{"x":916,"y":145},{"x":550,"y":59},{"x":726,"y":198},{"x":309,"y":87},{"x":644,"y":22},{"x":913,"y":114},{"x":181,"y":170},{"x":238,"y":41},{"x":702,"y":132},{"x":119,"y":6},{"x":947,"y":94},{"x":973,"y":155},{"x":56,"y":68},{"x":535,"y":178},{"x":815,"y":28},{"x":641,"y":106},{"x":378,"y":142},{"x":111,"y":62},{"x":533,"y":189},{"x":704,"y":14},{"x":171,"y":79},{"x":249,"y":127},
{"x":367,"y":147},{"x":403,"y":61},{"x":291,"y":200},{"x":928,"y":89},{"x":409,"y":24},{"x":135,"y":116},{"x":622,"y":172},{"x":296,"y":43},{"x":563,"y":134},{"x":980,"y":8},{"x":951,"y":96},{"x":838,"y":157},{"x":575,"y":70},{"x":256,"y":180},{"x":644,"y":30},{"x":169,"y":108},{"x":82,"y":144},{"x":861,"y":64},{"x":648,"y":191},{"x":227,"y":16},{"x":104,"y":81},{"x":636,"y":129},{"x":315,"y":177},{"x":442,"y":40},{"x":173,"y":101},{"x":558,"y":150},{"x":683,"y":3},{"x":549,"y":86},{"x":120,"y":162},{"x":852,"y":49},{"x":639,"y":123},{"x":814,"y":187},{"x":29,"y":71},{"x":745,"y":31},{"x":860,"y":140},{"x":976,"y":95},{"x":87,"y":158},{"x":755,"y":55},{"x":68,"y":114},{"x":643,"y":119},{"x":981,"y":38},{"x":62,"y":165},{"x":847,"y":84},{"x":74,"y":10},{"x":907,"y":142},{"x":384,"y":57},{"x":721,"y":196},{"x":540,"y":103},{"x":966,"y":28},{"x":600,"y":174},{"x":776,"y":67},{"x":359,"y":131},{"x":694,"y":5},{"x":963,"y":92},{"x":231,"y":153},{"x":288,"y":46},{"x":752,"y":188},{"x":169,"y":74},{"x":997,"y":111},{"x":23,"y":20},{"x":106,"y":160},{"x":585,"y":99},{"x":865,"y":137},{"x":691,"y":52},{"x":428,"y":183},{"x":161,"y":13},{"x":583,"y":78},{"x":754,"y":126},{"x":221,"y":169},{"x":299,"y":34},
{"x":417,"y":94},{"x":453,"y":157},{"x":341,"y":54},{"x":978,"y":113},{"x":459,"y":118},{"x":185,"y":37},{"x":672,"y":164},{"x":346,"y":83},{"x":613,"y":9},{"x":30,"y":141},{"x":1,"y":56},{"x":888,"y":195},{"x":625,"y":102},{"x":306,"y":27},{"x":694,"y":173},{"x":219,"y":66},{"x":132,"y":130},{"x":911,"y":4},{"x":698,"y":91},{"x":277,"y":152},{"x":154,"y":45},{"x":686,"y":187},{"x":365,"y":73},{"x":492,"y":110},{"x":223,"y":19},{"x":608,"y":159},{"x":733,"y":98},{"x":599,"y":136},{"x":170,"y":51},{"x":902,"y":182},{"x":689,"y":12},{"x":864,"y":77},{"x":79,"y":125},{"x":795,"y":168},{"x":910,"y":33},{"x":26,"y":146},{"x":137,"y":60},{"x":805,"y":199},{"x":118,"y":88},{"x":693,"y":23},{"x":31,"y":115},{"x":112,"y":171},{"x":897,"y":42},{"x":124,"y":133},{"x":957,"y":7},{"x":434,"y":95},{"x":771,"y":156},{"x":590,"y":69},{"x":16,"y":179},{"x":650,"y":29},{"x":826,"y":107},{"x":409,"y":143},{"x":744,"y":63},{"x":13,"y":190},{"x":281,"y":15},{"x":338,"y":80},{"x":802,"y":128},{"x":219,"y":176},{"x":47,"y":39},{"x":73,"y":100},{"x":156,"y":149},{"x":635,"y":2},{"x":915,"y":85},{"x":741,"y":161},{"x":478,"y":48},{"x":211,"y":122},{"x":633,"y":186},{"x":804,"y":70},{"x":271,"y":30},{"x":349,"y":139},
{"x":467,"y":21},{"x":503,"y":161},{"x":391,"y":100},{"x":28,"y":138},{"x":509,"y":53},{"x":235,"y":184},{"x":722,"y":14},{"x":396,"y":79},{"x":663,"y":127},{"x":80,"y":170},{"x":51,"y":35},{"x":938,"y":148},{"x":675,"y":62},{"x":356,"y":198},{"x":744,"y":90},{"x":269,"y":25},{"x":182,"y":117},{"x":961,"y":173},{"x":748,"y":44},{"x":327,"y":135},{"x":204,"y":9},{"x":736,"y":97},{"x":415,"y":158},{"x":542,"y":71},{"x":273,"y":181},{"x":658,"y":31},{"x":783,"y":109},{"x":649,"y":145},{"x":220,"y":65},{"x":952,"y":192},{"x":739,"y":17},{"x":914,"y":82},{"x":129,"y":130},{"x":845,"y":178},{"x":960,"y":41},{"x":76,"y":102},{"x":187,"y":151},{"x":855,"y":4},{"x":168,"y":87},{"x":743,"y":163},{"x":81,"y":50},{"x":162,"y":124},{"x":947,"y":188},{"x":174,"y":72},{"x":7,"y":32},{"x":484,"y":141},{"x":821,"y":96},{"x":640,"y":159},{"x":66,"y":56},{"x":700,"y":115},{"x":876,"y":120},{"x":459,"y":39},{"x":794,"y":166},{"x":63,"y":85},{"x":331,"y":11},{"x":388,"y":143},{"x":852,"y":58},{"x":269,"y":197},{"x":97,"y":104},{"x":123,"y":29},{"x":206,"y":175},{"x":685,"y":68},{"x":965,"y":132},{"x":791,"y":6},{"x":528,"y":93},{"x":261,"y":154},{"x":683,"y":47},{"x":854,"y":189},{"x":321,"y":75},{"x":399,"y":112},
{"x":517,"y":30},{"x":553,"y":108},{"x":441,"y":144},{"x":78,"y":64},{"x":559,"y":191},{"x":285,"y":16},{"x":772,"y":81},{"x":446,"y":129},{"x":713,"y":177},{"x":130,"y":40},{"x":101,"y":101},{"x":988,"y":150},{"x":725,"y":3},{"x":406,"y":86},{"x":794,"y":162},{"x":319,"y":49},{"x":232,"y":123},{"x":11,"y":187},{"x":798,"y":71},{"x":377,"y":31},{"x":254,"y":140},{"x":786,"y":95},{"x":465,"y":158},{"x":592,"y":55},{"x":323,"y":114},{"x":708,"y":119},{"x":833,"y":38},{"x":699,"y":165},{"x":270,"y":84},{"x":2,"y":10},{"x":789,"y":142},{"x":964,"y":57},{"x":179,"y":196},{"x":895,"y":103},{"x":10,"y":28},{"x":126,"y":174},{"x":237,"y":67},{"x":905,"y":131},{"x":218,"y":5},{"x":793,"y":92},{"x":131,"y":153},{"x":212,"y":46},{"x":997,"y":188},{"x":224,"y":74},{"x":57,"y":111},{"x":534,"y":20},{"x":871,"y":160},{"x":690,"y":99},{"x":116,"y":137},{"x":750,"y":52},{"x":926,"y":183},{"x":509,"y":13},{"x":844,"y":78},{"x":113,"y":126},{"x":381,"y":169},{"x":438,"y":34},{"x":902,"y":147},{"x":319,"y":61},{"x":147,"y":200},{"x":173,"y":89},{"x":256,"y":24},{"x":735,"y":116},{"x":15,"y":172},{"x":841,"y":43},{"x":578,"y":134},{"x":311,"y":8},{"x":733,"y":96},{"x":904,"y":157},{"x":371,"y":70},{"x":449,"y":180},
{"x":567,"y":163},{"x":603,"y":82},{"x":491,"y":8},{"x":128,"y":140},{"x":609,"y":55},{"x":335,"y":194},{"x":822,"y":101},{"x":496,"y":26},{"x":763,"y":172},{"x":180,"y":65},{"x":151,"y":129},{"x":38,"y":3},{"x":775,"y":90},{"x":456,"y":151},{"x":844,"y":44},{"x":369,"y":186},{"x":282,"y":72},{"x":61,"y":109},{"x":848,"y":18},{"x":427,"y":158},{"x":304,"y":97},{"x":836,"y":135},{"x":515,"y":50},{"x":642,"y":181},{"x":373,"y":11},{"x":758,"y":76},{"x":883,"y":124},{"x":749,"y":167},{"x":320,"y":32},{"x":52,"y":145},{"x":839,"y":59},{"x":14,"y":198},{"x":229,"y":87},{"x":945,"y":22},{"x":60,"y":114},{"x":176,"y":170},{"x":287,"y":41},{"x":955,"y":132},{"x":268,"y":6},{"x":843,"y":94},{"x":181,"y":155},{"x":262,"y":68},{"x":47,"y":178},{"x":274,"y":28},{"x":107,"y":106},{"x":584,"y":142},{"x":921,"y":62},{"x":740,"y":189},{"x":166,"y":14},{"x":800,"y":79},{"x":976,"y":127},{"x":559,"y":175},{"x":894,"y":38},{"x":163,"y":99},{"x":431,"y":148},{"x":488,"y":1},{"x":952,"y":84},{"x":369,"y":160},{"x":197,"y":47},{"x":223,"y":121},{"x":306,"y":185},{"x":785,"y":69},{"x":65,"y":29},{"x":891,"y":138},{"x":628,"y":93},{"x":361,"y":156},{"x":783,"y":53},{"x":954,"y":112},{"x":421,"y":117},{"x":499,"y":36},
{"x":617,"y":42},{"x":653,"y":133},{"x":541,"y":7},{"x":178,"y":95},{"x":659,"y":156},{"x":385,"y":69},{"x":872,"y":179},{"x":546,"y":29},{"x":813,"y":107},{"x":230,"y":143},{"x":201,"y":63},{"x":88,"y":190},{"x":825,"y":15},{"x":506,"y":80},{"x":894,"y":128},{"x":419,"y":176},{"x":332,"y":39},{"x":111,"y":100},{"x":898,"y":149},{"x":477,"y":2},{"x":354,"y":85},{"x":886,"y":161},{"x":565,"y":48},{"x":692,"y":122},{"x":423,"y":186},{"x":808,"y":70},{"x":933,"y":30},{"x":799,"y":139},{"x":370,"y":94},{"x":102,"y":157},{"x":889,"y":54},{"x":64,"y":113},{"x":279,"y":118},{"x":995,"y":37},{"x":110,"y":164},{"x":226,"y":83},{"x":337,"y":9},{"x":5,"y":141},{"x":318,"y":56},{"x":893,"y":195},{"x":231,"y":102},{"x":312,"y":27},{"x":97,"y":173},{"x":324,"y":66},{"x":157,"y":130},{"x":634,"y":4},{"x":971,"y":91},{"x":790,"y":152},{"x":216,"y":45},{"x":850,"y":187},{"x":26,"y":73},{"x":609,"y":110},{"x":944,"y":19},{"x":213,"y":159},{"x":481,"y":98},{"x":538,"y":136},{"x":2,"y":51},{"x":419,"y":182},{"x":247,"y":12},{"x":273,"y":77},{"x":356,"y":125},{"x":835,"y":168},{"x":115,"y":33},{"x":941,"y":146},{"x":678,"y":60},{"x":411,"y":199},{"x":833,"y":88},{"x":4,"y":23},{"x":471,"y":115},{"x":549,"y":171},
{"x":667,"y":124},{"x":703,"y":188},{"x":591,"y":72},{"x":228,"y":32},{"x":709,"y":141},{"x":435,"y":96},{"x":922,"y":159},{"x":596,"y":56},{"x":863,"y":115},{"x":280,"y":120},{"x":251,"y":39},{"x":138,"y":166},{"x":875,"y":85},{"x":556,"y":11},{"x":944,"y":143},{"x":469,"y":58},{"x":382,"y":197},{"x":161,"y":104},{"x":948,"y":29},{"x":527,"y":175},{"x":404,"y":68},{"x":936,"y":132},{"x":615,"y":6},{"x":742,"y":93},{"x":473,"y":154},{"x":858,"y":47},{"x":983,"y":189},{"x":849,"y":75},{"x":420,"y":112},{"x":152,"y":21},{"x":939,"y":161},{"x":114,"y":100},{"x":329,"y":138},{"x":45,"y":53},{"x":160,"y":184},{"x":276,"y":14},{"x":387,"y":79},{"x":55,"y":127},{"x":368,"y":170},{"x":943,"y":35},{"x":281,"y":148},{"x":362,"y":62},{"x":147,"y":198},{"x":374,"y":90},{"x":207,"y":25},{"x":684,"y":117},{"x":21,"y":173},{"x":840,"y":44},{"x":266,"y":135},{"x":900,"y":9},{"x":76,"y":97},{"x":659,"y":158},{"x":994,"y":71},{"x":263,"y":181},{"x":531,"y":31},{"x":588,"y":109},{"x":52,"y":145},{"x":469,"y":65},{"x":297,"y":192},{"x":323,"y":17},{"x":406,"y":82},{"x":885,"y":130},{"x":165,"y":178},{"x":991,"y":41},{"x":728,"y":102},{"x":461,"y":151},{"x":883,"y":4},{"x":54,"y":87},{"x":521,"y":163},{"x":599,"y":50}
]
},
"vconcat": [
{
 "width": 346, "height": 271,
 "title": {"text": "(a) 𝑉ₜₕ=25 mV", "dx": 5},
 "layer": [
  {"data": {"name": "a"}, "mark": {"type": "circle", "size": 11, "color": "#8c8c8c", "opacity": 0.9},
   "encoding": {
    "x": {"field": "x", "type": "quantitative", "scale": {"domain": [0, 1000], "nice": false}, "axis": {"values": [0,200,400,600,800,1000], "labelOverlap": false, "labelSeparation": -100, "labelExpr": "datum.value == 1000 ? '1\u2009000' : datum.label", "title": "Transmitting time"}},
    "y": {"field": "y", "type": "quantitative", "scale": {"domain": [0, 200], "nice": false}, "axis": {"values": [0,20,40,60,80,100,120,140,160,180,200], "tickCount": 11, "labelOverlap": false, "labelSeparation": -100, "title": "Distance/m"}}}},
  {"data": {"name": "la"}, "mark": {"type": "rule", "strokeWidth": 4.5, "color": "#999999"}, "encoding": {"y": {"field": "y", "type": "quantitative"}}}
 ]
},
{
 "width": 346, "height": 271,
 "title": {"text": "(b) 𝑉ₜₕ=80 mV", "dx": 5},
 "layer": [
  {"data": {"name": "b"}, "mark": {"type": "circle", "size": 10, "color": "#8c8c8c", "opacity": 0.9},
   "encoding": {
    "x": {"field": "x", "type": "quantitative", "scale": {"domain": [0, 1000], "nice": false}, "axis": {"values": [0,200,400,600,800,1000], "labelOverlap": false, "labelSeparation": -100, "labelExpr": "datum.value == 1000 ? '1\u2009000' : datum.label", "title": "Transmitting time"}},
    "y": {"field": "y", "type": "quantitative", "scale": {"domain": [0, 200], "nice": false}, "axis": {"values": [0,20,40,60,80,100,120,140,160,180,200], "tickCount": 11, "labelOverlap": false, "labelSeparation": -100, "title": "Distance/m"}}}},
  {"data": {"name": "lb"}, "mark": {"type": "rule", "strokeWidth": 3.5, "color": "#a3a3a3"}, "encoding": {"y": {"field": "y", "type": "quantitative"}}}
 ]
},
{
 "width": 346, "height": 271,
 "title": {"text": "(c) 𝑉ₜₕ=125 mV", "dx": 5},
 "layer": [
  {"data": {"name": "c"}, "mark": {"type": "circle", "size": 10, "color": "#8c8c8c", "opacity": 0.9},
   "encoding": {
    "x": {"field": "x", "type": "quantitative", "scale": {"domain": [0, 1000], "nice": false}, "axis": {"values": [0,200,400,600,800,1000], "labelOverlap": false, "labelSeparation": -100, "labelExpr": "datum.value == 1000 ? '1\u2009000' : datum.label", "title": "Transmitting time"}},
    "y": {"field": "y", "type": "quantitative", "scale": {"domain": [0, 200], "nice": false}, "axis": {"values": [0,20,40,60,80,100,120,140,160,180,200], "tickCount": 11, "labelOverlap": false, "labelSeparation": -100, "title": "Distance/m"}}}},
  {"data": {"name": "lc"}, "mark": {"type": "rule", "strokeWidth": 3, "color": "#b0b0b0"}, "encoding": {"y": {"field": "y", "type": "quantitative"}}}
 ]
}
]
}
